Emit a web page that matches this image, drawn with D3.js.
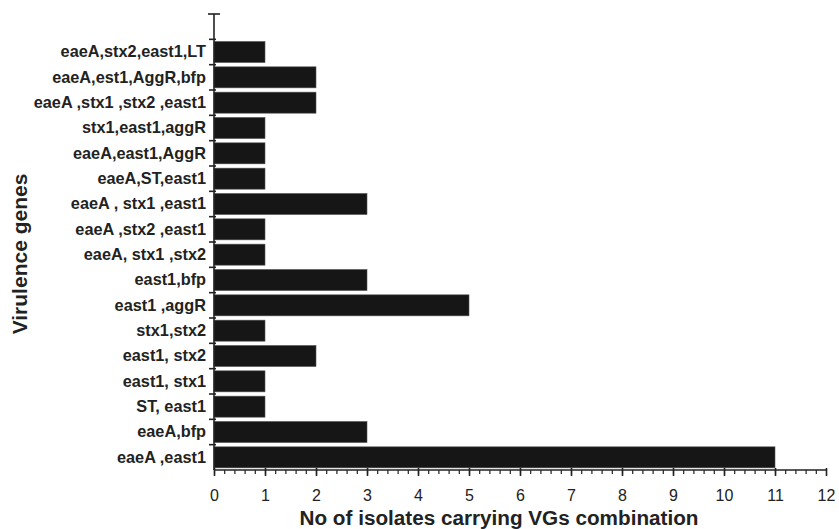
<!DOCTYPE html>
<html>
<head>
<meta charset="utf-8">
<script src="https://cdn.jsdelivr.net/npm/d3@7"></script>
<style>
  body { margin: 0; background: #fff; }
  text { font-family: "Liberation Sans", Arial, sans-serif; fill: #222; }
</style>
</head>
<body>
<div id="chart"></div>
<script>
// data, top to bottom as drawn
var genes = ["eaeA,stx2,east1,LT", "eaeA,est1,AggR,bfp", "eaeA ,stx1 ,stx2 ,east1",
    "stx1,east1,aggR", "eaeA,east1,AggR", "eaeA,ST,east1", "eaeA , stx1 ,east1",
    "eaeA ,stx2 ,east1", "eaeA, stx1 ,stx2", "east1,bfp", "east1 ,aggR", "stx1,stx2",
    "east1, stx2", "east1, stx1", "ST, east1", "eaeA,bfp", "eaeA ,east1"];
var counts = [1, 2, 2, 1, 1, 1, 3, 1, 1, 3, 5, 1, 2, 1, 1, 3, 11];
var xTicks = [0, 1, 2, 3, 4, 5, 6, 7, 8, 9, 10, 11, 12];

var svgwidth = 839;
var svgheight = 529;

var svg = d3.select("#chart").append("svg")
    .attr("width", svgwidth)
    .attr("height", svgheight);

//scales
var x = d3.scaleLinear().domain([0, 12]).range([214, 826]);
var axisTop = 14, axisBottom = 470;
var step = (axisBottom - axisTop) / (genes.length + 1);
var y = d3.scaleBand()
    .domain(genes)
    .range([axisTop + step, axisBottom])
    .paddingInner(0.17)
    .paddingOuter(0.085);

//bars
svg.append("g").selectAll("rect")
    .data(genes)
    .enter().append("rect")
    .attr("x", x(0))
    .attr("y", d => y(d))
    .attr("width", (d, i) => x(counts[i]) - x(0))
    .attr("height", y.bandwidth())
    .attr("fill", "#161616")
    .attr("stroke", "#555")
    .attr("stroke-width", 0.6);

//y axis line and boundary ticks
var yEdge = d3.scaleLinear().domain([0, genes.length + 1]).range([axisTop, axisBottom]);
var yAxis = svg.append("g");
yAxis.append("line")
    .attr("x1", x(0)).attr("x2", x(0))
    .attr("y1", axisTop).attr("y2", axisBottom)
    .attr("stroke", "#222").attr("stroke-width", 1.6);
yAxis.selectAll(".ytick")
    .data(d3.range(0, genes.length + 1))
    .enter().append("line")
    .attr("x1", d => d === 0 ? x(0) - 6 : x(0) - 5)
    .attr("x2", d => d === 0 ? x(0) + 6 : x(0) + 2)
    .attr("y1", d => yEdge(d)).attr("y2", d => yEdge(d))
    .attr("stroke", "#222").attr("stroke-width", 1.6);

//category labels
svg.append("g")
    .attr("transform", `translate(${x(0)},0)`)
    .call(d3.axisLeft(y).tickSize(0).tickPadding(8))
    .call(g => g.select(".domain").remove())
    .selectAll("text")
    .style("font-family", "'Liberation Sans', Arial, sans-serif")
    .style("font-size", "16.3px")
    .style("font-weight", "bold")
    .attr("fill", "#222");

//x axis minor ticks
svg.append("g")
    .attr("transform", `translate(0,${axisBottom})`)
    .call(d3.axisBottom(x).tickValues(d3.range(0, 60).map(d => d / 5)).tickSize(4).tickFormat(""))
    .call(g => g.select(".domain").remove())
    .selectAll("line").attr("stroke", "#222").attr("stroke-width", 1.2);

//x axis major
var xAxis = svg.append("g")
    .attr("transform", `translate(0,${axisBottom})`)
    .call(d3.axisBottom(x).tickValues(xTicks).tickSize(6).tickPadding(14).tickFormat(d3.format("d")));
xAxis.select(".domain").attr("stroke", "#222").attr("stroke-width", 1.6)
    .attr("d", `M${x(0)},0H${x(12)}`);
xAxis.selectAll(".tick line").attr("stroke", "#222").attr("stroke-width", 1.6).attr("y1", -2);
xAxis.selectAll(".tick text")
    .style("font-family", "'Liberation Sans', Arial, sans-serif")
    .style("font-size", "16px")
    .attr("fill", "#333");

//axis titles
svg.append("text")
    .attr("x", 499)
    .attr("y", 525)
    .attr("text-anchor", "middle")
    .style("font-size", "20.7px")
    .style("font-weight", "bold")
    .text("No of isolates carrying VGs combination");

svg.append("text")
    .attr("transform", "translate(27,254) rotate(-90)")
    .attr("text-anchor", "middle")
    .style("font-size", "21px")
    .style("font-weight", "bold")
    .text("Virulence genes");
</script>
</body>
</html>
